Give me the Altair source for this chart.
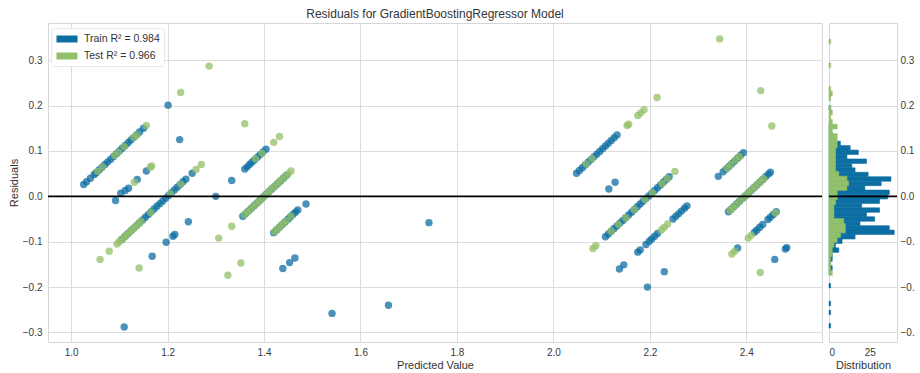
import altair as alt
import pandas as pd

# ---------------- data ----------------
train_label = "Train R² = 0.984"
test_label = "Test R² = 0.966"

train_pred = [
    # streak A
    1.026, 1.032, 1.040, 1.048, 1.052, 1.058, 1.064, 1.070, 1.076, 1.082, 1.088,
    1.094, 1.100, 1.106, 1.112, 1.118, 1.124, 1.130, 1.136, 1.142, 1.150,
    # streak B
    1.092, 1.103, 1.112, 1.119, 1.137, 1.156,
    # streak C
    1.105, 1.112, 1.118, 1.124, 1.130, 1.136, 1.142, 1.148, 1.154, 1.160, 1.166,
    1.172, 1.178, 1.184, 1.190, 1.196, 1.202, 1.208, 1.214, 1.220, 1.226, 1.232,
    1.238, 1.251,
    # isolated
    1.201, 1.225, 1.243, 1.197, 1.211, 1.215, 1.168, 1.110, 1.300, 1.333,
    # streak D
    1.360, 1.365, 1.370, 1.375, 1.380, 1.386, 1.392, 1.398, 1.404,
    # streak E
    1.356, 1.362, 1.368, 1.374, 1.380, 1.386, 1.392, 1.398, 1.404, 1.410, 1.416,
    1.422, 1.428, 1.434, 1.440, 1.446,
    # streak F
    1.420, 1.426, 1.432, 1.438, 1.444, 1.450, 1.455, 1.460, 1.465, 1.470,
    # isolated
    1.487, 1.439, 1.453, 1.464, 1.541, 1.658, 1.742,
    # streak G
    2.048, 2.054, 2.060, 2.066, 2.072, 2.078, 2.084, 2.090, 2.096, 2.102, 2.108,
    2.114, 2.120, 2.126, 2.132,
    2.115, 2.128,
    # streak H
    2.108, 2.114, 2.120, 2.126, 2.132, 2.138, 2.144, 2.150, 2.156, 2.162, 2.168,
    2.174, 2.180, 2.186, 2.192, 2.198, 2.204, 2.210, 2.216, 2.222, 2.228, 2.234,
    2.240,
    # streak I
    2.175, 2.180, 2.192, 2.199, 2.204, 2.210, 2.216, 2.248, 2.254, 2.260, 2.266,
    2.272, 2.277,
    2.137, 2.146, 2.195, 2.230,
    # streak J
    2.342, 2.352, 2.358, 2.364, 2.370, 2.376, 2.382, 2.388, 2.394,
    # streak K
    2.363, 2.368, 2.374, 2.380, 2.386, 2.392, 2.398, 2.404, 2.410, 2.416, 2.422,
    2.428, 2.434, 2.440, 2.446, 2.450,
    # streak L
    2.417, 2.422, 2.428, 2.434, 2.445, 2.450, 2.456, 2.462,
    2.382, 2.459, 2.481, 2.484,
]
train_resid = [
    0.026, 0.032, 0.040, 0.048, 0.052, 0.058, 0.064, 0.070, 0.076, 0.082, 0.088,
    0.094, 0.100, 0.106, 0.112, 0.118, 0.124, 0.130, 0.136, 0.142, 0.150,
    -0.009, 0.007, 0.013, 0.018, 0.037, 0.056,
    -0.095, -0.088, -0.082, -0.076, -0.070, -0.064, -0.058, -0.052, -0.046, -0.040, -0.034,
    -0.028, -0.022, -0.016, -0.010, -0.004, 0.002, 0.008, 0.014, 0.020, 0.026, 0.032,
    0.038, 0.051,
    0.201, 0.125, -0.056, -0.101, -0.088, -0.084, -0.132, -0.288, 0.000, 0.035,
    0.060, 0.065, 0.070, 0.075, 0.080, 0.086, 0.092, 0.098, 0.104,
    -0.044, -0.038, -0.032, -0.026, -0.020, -0.014, -0.008, -0.002, 0.004, 0.010, 0.016,
    0.022, 0.028, 0.034, 0.040, 0.046,
    -0.080, -0.074, -0.068, -0.062, -0.056, -0.050, -0.045, -0.040, -0.035, -0.030,
    -0.017, -0.159, -0.146, -0.136, -0.258, -0.240, -0.058,
    0.051, 0.057, 0.063, 0.069, 0.075, 0.081, 0.087, 0.093, 0.099, 0.105, 0.111,
    0.117, 0.123, 0.129, 0.135,
    0.016, 0.031,
    -0.089, -0.083, -0.077, -0.071, -0.065, -0.059, -0.053, -0.047, -0.041, -0.035, -0.029,
    -0.023, -0.017, -0.011, -0.005, 0.001, 0.007, 0.013, 0.019, 0.025, 0.031, 0.037,
    0.043,
    -0.123, -0.118, -0.106, -0.099, -0.094, -0.088, -0.082, -0.050, -0.044, -0.038, -0.032,
    -0.026, -0.021,
    -0.160, -0.151, -0.200, -0.166,
    0.044, 0.054, 0.060, 0.066, 0.072, 0.078, 0.084, 0.090, 0.096,
    -0.034, -0.029, -0.023, -0.017, -0.011, -0.005, 0.001, 0.007, 0.013, 0.019, 0.025,
    0.031, 0.037, 0.043, 0.049, 0.053,
    -0.079, -0.074, -0.068, -0.062, -0.051, -0.046, -0.040, -0.034,
    -0.114, -0.139, -0.116, -0.113,
]

test_pred = [
    1.055, 1.065, 1.090, 1.098, 1.110, 1.130, 1.136, 1.156,
    1.131, 1.164, 1.167,
    1.060, 1.079, 1.095, 1.100, 1.105, 1.110, 1.115, 1.120, 1.125, 1.130, 1.135,
    1.140, 1.145, 1.165, 1.206, 1.227, 1.259, 1.270,
    1.286, 1.227, 1.141, 1.360, 1.333, 1.306, 1.325, 1.352, 1.420, 1.432,
    1.382, 1.396,
    1.360, 1.366, 1.372, 1.378, 1.384, 1.390, 1.396, 1.402, 1.408, 1.414, 1.420,
    1.426, 1.432, 1.438, 1.444, 1.450, 1.456,
    1.422, 1.428, 1.434, 1.440, 1.446, 1.456,
    2.068, 2.080, 2.153, 2.156, 2.175, 2.181, 2.188, 2.215,
    2.082, 2.088, 2.120, 2.135, 2.150, 2.168, 2.190, 2.205, 2.225, 2.236, 2.252,
    2.224, 2.230, 2.237,
    2.345, 2.430, 2.453,
    2.360, 2.368, 2.378, 2.386,
    2.366, 2.372, 2.378, 2.386, 2.394, 2.400, 2.406, 2.412, 2.418, 2.424, 2.430, 2.436,
    2.404, 2.410, 2.460,
    2.370, 2.376, 2.429,
]
test_resid = [
    0.055, 0.065, 0.090, 0.098, 0.110, 0.130, 0.136, 0.156,
    0.031, 0.064, 0.067,
    -0.139, -0.121, -0.105, -0.100, -0.095, -0.090, -0.085, -0.080, -0.075, -0.070, -0.065,
    -0.060, -0.055, -0.035, 0.006, 0.027, 0.059, 0.070,
    0.287, 0.229, -0.158, 0.160, -0.066, -0.092, -0.174, -0.147, 0.119, 0.132,
    0.083, 0.095,
    -0.040, -0.034, -0.028, -0.022, -0.016, -0.010, -0.004, 0.002, 0.008, 0.014, 0.020,
    0.026, 0.032, 0.038, 0.044, 0.050, 0.056,
    -0.078, -0.072, -0.066, -0.060, -0.054, -0.044,
    0.071, 0.083, 0.156, 0.159, 0.178, 0.184, 0.191, 0.218,
    -0.115, -0.109, -0.077, -0.062, -0.047, -0.029, -0.007, 0.008, 0.028, 0.039, 0.055,
    -0.074, -0.068, -0.061,
    0.347, 0.233, 0.155,
    0.062, 0.070, 0.080, 0.088,
    -0.031, -0.025, -0.019, -0.011, -0.003, 0.003, 0.009, 0.015, 0.021, 0.027, 0.033, 0.039,
    -0.092, -0.086, -0.036,
    -0.127, -0.121, -0.168,
]

# histogram of residuals (bin lower edge, count)
train_bin_width = 0.0098
train_bin_lo = [-0.2900, -0.2606, -0.2410, -0.2018, -0.1724, -0.1626, -0.1528, -0.1430,
                -0.1332, -0.1234, -0.1136, -0.1038, -0.0940, -0.0842, -0.0744, -0.0646,
                -0.0548, -0.0450, -0.0352, -0.0254, -0.0156, -0.0058, 0.0040, 0.0138,
                0.0236, 0.0334, 0.0432, 0.0530, 0.0628, 0.0726, 0.0824, 0.0922, 0.1020,
                0.1118, 0.1216, 0.1314, 0.1412, 0.1510, 0.1902]
train_counts = [1, 1, 1, 1, 1, 2, 1, 2,
                2, 6, 4, 8, 16, 40, 37, 19,
                28, 23, 31, 20, 31, 36, 37, 22,
                32, 38, 24, 16, 14, 23, 11, 18, 13,
                7, 4, 2, 1, 1, 1]

test_bin_width = 0.0104
test_bin_lo = [-0.1740, -0.1636, -0.1532, -0.1428, -0.1324, -0.1220, -0.1116, -0.1012,
               -0.0908, -0.0804, -0.0700, -0.0596, -0.0492, -0.0388, -0.0284, -0.0180,
               -0.0076, 0.0028, 0.0132, 0.0236, 0.0340, 0.0444, 0.0548, 0.0652,
               0.0756, 0.0860, 0.0964, 0.1068, 0.1172, 0.1276, 0.1380, 0.1484,
               0.1588, 0.1692, 0.1796, 0.1900, 0.2108, 0.2212, 0.2316, 0.2836, 0.3356]
test_counts = [2, 1, 1, 1, 2, 2, 3, 5,
               7, 10, 10, 9, 3, 3, 3, 4,
               5, 5, 11, 12, 11, 6, 4, 4,
               4, 4, 4, 5, 5, 5, 2, 5,
               2, 1, 2, 1, 1, 2, 1, 1, 1]

x_ticks = [1.0, 1.2, 1.4, 1.6, 1.8, 2.0, 2.2, 2.4]
y_ticks = [-0.3, -0.2, -0.1, 0.0, 0.1, 0.2, 0.3]
hist_ticks = [0, 25]

# ---------------- chart ----------------
BLUE = "#0d6ea3"
GREEN = "#93c06a"
FONT = "Liberation Sans"
xdom = [0.952, 2.557]
ydom = [-0.321, 0.382]

pts = pd.DataFrame({
    "pred": train_pred + test_pred,
    "resid": train_resid + test_resid,
    "set": [train_label] * len(train_pred) + [test_label] * len(test_pred),
})
pts["ord"] = range(len(pts))

yscale = alt.Scale(domain=ydom, nice=False, zero=False)

scatter = alt.Chart(pts).mark_circle(size=55, opacity=0.75, strokeWidth=0).encode(
    x=alt.X("pred:Q", scale=alt.Scale(domain=xdom, nice=False, zero=False),
            axis=alt.Axis(values=x_ticks, format=".1f", title="Predicted Value",
                          labelPadding=5, titlePadding=2)),
    y=alt.Y("resid:Q", scale=yscale,
            axis=alt.Axis(values=y_ticks, format=".1f", title="Residuals",
                          labelPadding=6, titlePadding=3)),
    color=alt.Color("set:N",
                    scale=alt.Scale(domain=[train_label, test_label], range=[BLUE, GREEN]),
                    legend=alt.Legend(title=None, orient="none", legendX=3, legendY=5,
                                      fillColor="white", strokeColor="#e8e8e8",
                                      padding=4, cornerRadius=3,
                                      symbolType="M-1.5,-0.5H1.5V0.5H-1.5Z", symbolSize=196,
                                      symbolOffset=5, symbolOpacity=1, symbolStrokeWidth=0,
                                      labelFont=FONT, labelFontSize=10.5, labelColor="#333",
                                      labelOffset=10, rowPadding=4)),
    order=alt.Order("ord:Q"),
)

zero_df = pd.DataFrame({"y": [0.0]})
zero_main = alt.Chart(zero_df).mark_rule(color="black", strokeWidth=1.6).encode(
    y=alt.Y("y:Q", scale=yscale))

main = alt.layer(scatter, zero_main).properties(
    width=774, height=319,
    title=alt.TitleParams("Residuals for GradientBoostingRegressor Model", offset=2),
)

ht = pd.DataFrame({"lo": train_bin_lo, "count": train_counts})
ht["hi"] = ht["lo"] + train_bin_width
ht["base"] = 0
hg = pd.DataFrame({"lo": test_bin_lo, "count": test_counts})
hg["hi"] = hg["lo"] + test_bin_width
hg["base"] = 0

hx = alt.X("base:Q", scale=alt.Scale(domain=[0, 41.7], nice=False),
           axis=alt.Axis(values=hist_ticks, title="Distribution", grid=False,
                         labelPadding=5, titlePadding=2))
# the right-hand labels are cut off by the edge of the figure in the reference
hy = alt.Y("lo:Q", scale=yscale,
           axis=alt.Axis(orient="right", values=y_ticks, format=".1f", title=None,
                         labelPadding=3,
                         labelExpr="datum.value < 0 ? slice(datum.label, 0, 3) : datum.label"))

hist_train = alt.Chart(ht).mark_rect(color=BLUE, stroke=BLUE, strokeWidth=0.6).encode(
    x=hx, x2="count:Q", y=hy, y2="hi:Q")
hist_test = alt.Chart(hg).mark_rect(color=GREEN, stroke=GREEN, strokeWidth=0.6).encode(
    x=hx, x2="count:Q", y=hy, y2="hi:Q")
zero_hist = alt.Chart(zero_df).mark_rule(color="black", strokeWidth=1.6).encode(
    y=alt.Y("y:Q", scale=yscale))

hist = alt.layer(hist_train, hist_test, zero_hist).properties(width=68, height=319)

chart = alt.hconcat(main, hist, spacing=7, bounds="flush").properties(
    padding={"left": 7, "top": 7, "right": 0, "bottom": 0}
).configure(
    font=FONT,
).configure_view(
    stroke="#d6d6d6", strokeWidth=1,
).configure_axis(
    domain=False, ticks=False, grid=True, gridColor="#dcdcdc", gridWidth=1,
    labelFont=FONT, labelFontSize=10, labelColor="#3a3a3a",
    titleFont=FONT, titleFontSize=11, titleColor="#333", titleFontWeight="normal",
).configure_title(
    font=FONT, fontSize=12, fontWeight="normal", color="#333",
)

chart.save("out.html", embed_options={"renderer": "svg", "actions": False})
